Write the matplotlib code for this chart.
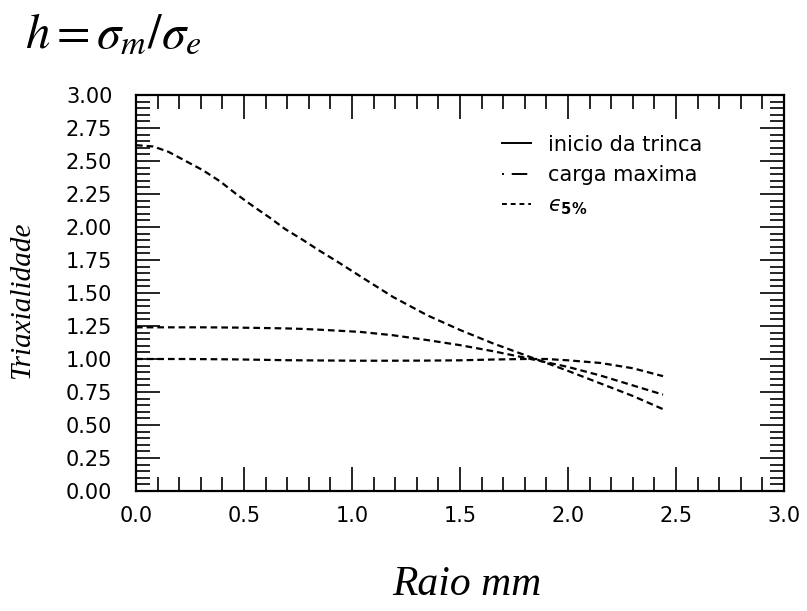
import numpy as np
import matplotlib
matplotlib.use("Agg")
import matplotlib.pyplot as plt
from matplotlib.lines import Line2D
from matplotlib.ticker import MultipleLocator, FormatStrFormatter

# dados (raio em mm, triaxialidade)
raio = [0.0, 0.08, 0.15, 0.23, 0.31, 0.39, 0.46, 0.54, 0.62, 0.69, 0.77, 0.85,
        0.93, 1.04, 1.19, 1.35, 1.5, 1.65, 1.8, 1.9, 2.0, 2.15, 2.3, 2.44]

inicio_trinca = [2.62, 2.61, 2.57, 2.50, 2.43, 2.345, 2.255, 2.16, 2.07, 1.985,
                 1.905, 1.82, 1.74, 1.625, 1.47, 1.33, 1.22, 1.12, 1.03, 0.97,
                 0.91, 0.815, 0.72, 0.62]
carga_maxima = [1.24, 1.24, 1.24, 1.24, 1.24, 1.239, 1.238, 1.236, 1.234, 1.232,
                1.228, 1.222, 1.215, 1.205, 1.18, 1.143, 1.105, 1.06, 1.01, 0.975,
                0.94, 0.875, 0.80, 0.73]
eps_5 = [1.00, 1.00, 1.00, 1.00, 0.999, 0.998, 0.997, 0.995, 0.993, 0.991,
         0.99, 0.989, 0.988, 0.987, 0.987, 0.988, 0.99, 0.996, 1.0, 1.0,
         0.99, 0.97, 0.93, 0.87]

legendas = ['inicio da trinca', 'carga maxima', '$\u03f5_{\\mathbf{5\\%}}$']

fig = plt.figure(figsize=(8.07, 6.11), dpi=100)
ax = fig.add_axes([0.1685, 0.1964, 0.803, 0.6481])

tracejado = (0, (3.0, 1.8))
for serie in [inicio_trinca, carga_maxima, eps_5]:
    ax.plot(raio, serie, color='black', linewidth=1.6, linestyle=tracejado)

ax.set_xlim(0, 3.0)
ax.set_ylim(0, 3.0)
ax.xaxis.set_major_locator(MultipleLocator(0.5))
ax.xaxis.set_minor_locator(MultipleLocator(0.1))
ax.yaxis.set_major_locator(MultipleLocator(0.25))
ax.yaxis.set_minor_locator(MultipleLocator(0.05))
ax.xaxis.set_major_formatter(FormatStrFormatter('%.1f'))
ax.yaxis.set_major_formatter(FormatStrFormatter('%.2f'))

ax.tick_params(which='both', direction='in', top=True, right=True,
               width=1.2, labelsize=15)
ax.tick_params(which='major', length=17)
ax.tick_params(which='minor', length=10)
ax.tick_params(axis='x', which='major', pad=11)
ax.tick_params(axis='y', which='major', pad=17)
for s in ax.spines.values():
    s.set_linewidth(1.6)

# legenda (estilos da legenda original)
handles = [Line2D([], [], color='black', lw=1.4, ls='-'),
           Line2D([], [], color='black', lw=1.4, ls=(0, (1, 4, 8, 2))),
           Line2D([], [], color='black', lw=1.4, ls=(0, (2.5, 2)))]
ax.legend(handles, legendas, loc='upper left', bbox_to_anchor=(0.565, 0.9),
          frameon=False, fontsize=15, handlelength=1.4, handletextpad=0.8,
          labelspacing=0.5, borderpad=0, borderaxespad=0)

# titulo e eixos
fig.text(25 / 807, 1 - 47 / 611, r'$h=\sigma_m/\sigma_e$', fontsize=35,
         math_fontfamily='stix', ha='left', va='baseline')
fig.text(22 / 807, 1 - 300 / 611, 'Triaxialidade', fontsize=21,
         family='Liberation Serif', style='italic', rotation=90,
         ha='center', va='center')
fig.text(467 / 807, 1 - 585 / 611, 'Raio mm', fontsize=30,
         family='Liberation Serif', style='italic', ha='center', va='center')

fig.savefig('out.png', dpi=100)
